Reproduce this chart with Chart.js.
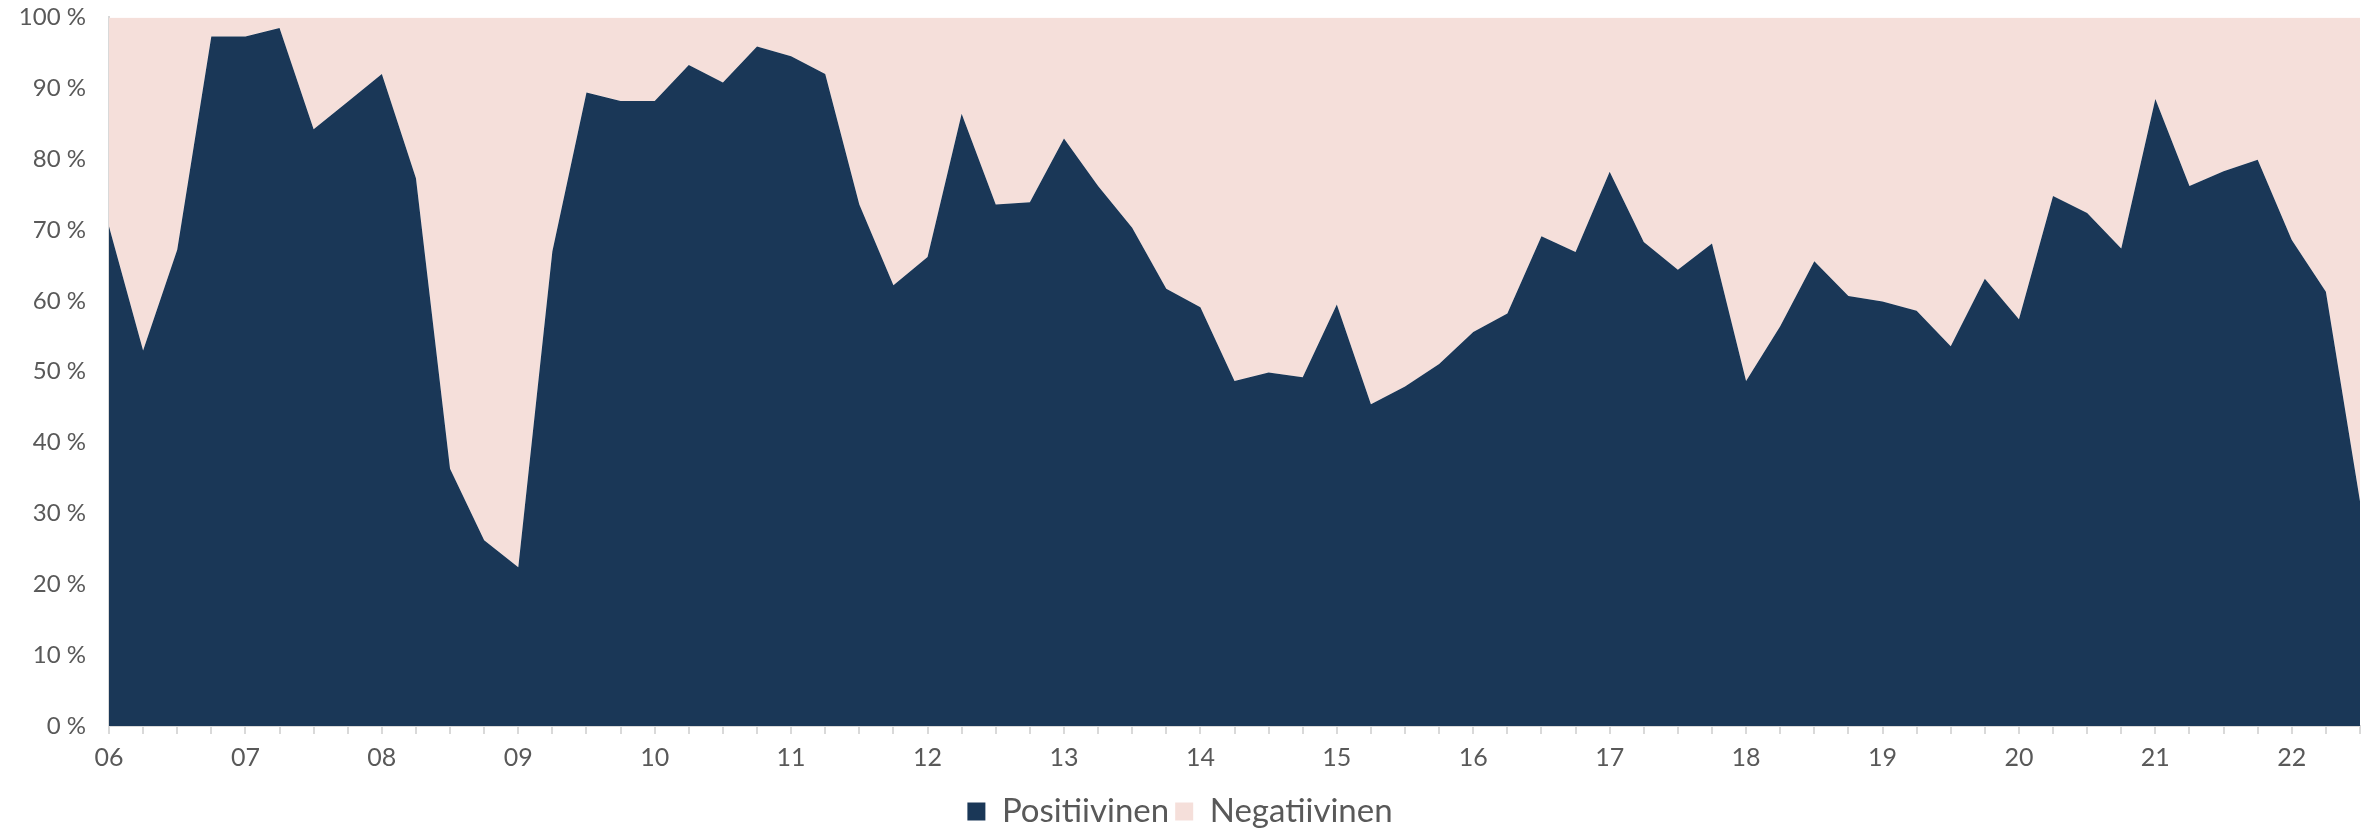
<!DOCTYPE html>
<html>
<head>
<meta charset="utf-8">
<script src="https://cdn.jsdelivr.net/npm/chart.js@4/dist/chart.umd.min.js"></script>
<style>
  html, body { margin: 0; padding: 0; background: #fff; }
  #wrap { width: 2377px; height: 828px; }
</style>
</head>
<body>
<div id="wrap"><canvas id="sentimentChart" width="2377" height="828"></canvas></div>
<script>
// neljännesvuodet 2006 Q1 - 2022 Q3
const years = ["06","07","08","09","10","11","12","13","14","15","16","17","18","19","20","21","22"];
const quarters = [];
years.forEach((y) => {
    for (let q = 1; q <= 4; q++) quarters.push(y + "Q" + q);
});
quarters.length = 67;

const positive = [
    70.5, 53.0, 67.2, 97.3,
    97.3, 98.5, 84.2, 88.1,
    92.0, 77.3, 36.3, 26.2,
    22.4, 67.0, 89.4, 88.2,
    88.2, 93.3, 90.8, 95.9,
    94.5, 92.0, 73.6, 62.2,
    66.2, 86.4, 73.6, 73.9,
    82.9, 76.2, 70.3, 61.7,
    59.1, 48.7, 49.9, 49.2,
    59.5, 45.4, 47.9, 51.1,
    55.6, 58.2, 69.1, 66.9,
    78.2, 68.3, 64.4, 68.1,
    48.7, 56.4, 65.6, 60.7,
    59.9, 58.6, 53.6, 63.1,
    57.4, 74.8, 72.4, 67.4,
    88.5, 76.2, 78.3, 79.9,
    68.6, 61.3, 31.7
];
const negative = positive.map((v) => +(100 - v).toFixed(1));

const yTicks = [0, 10, 20, 30, 40, 50, 60, 70, 80, 90, 100];

const textColor = "#595959";
const axisColor = "#D9D9D9";
const fontFamily = "Lato, 'Open Sans', sans-serif";

const ctx = document.getElementById("sentimentChart");

new Chart(ctx, {
    type: "line",
    data: {
        labels: quarters,
        datasets: [
            {
                label: "Positiivinen",
                data: positive,
                backgroundColor: "#1A3757",
                borderWidth: 0,
                pointRadius: 0,
                fill: "origin",
                tension: 0,
            },
            {
                label: "Negatiivinen",
                data: negative,
                backgroundColor: "#F5DFDA",
                borderWidth: 0,
                pointRadius: 0,
                fill: "-1",
                tension: 0,
            },
        ],
    },
    options: {
        responsive: false,
        animation: false,
        layout: { padding: { top: 2, right: 17, left: 0, bottom: -10 } },
        plugins: {
            tooltip: { enabled: false },
            legend: {
                position: "bottom",
                labels: {
                    color: textColor,
                    font: { family: fontFamily, size: 33 },
                    boxWidth: 18,
                    boxHeight: 18,
                    padding: 6,
                },
            },
        },
        scales: {
            x: {
                offset: false,
                afterFit: (scale) => { scale.height = 63; },
                grid: {
                    display: true,
                    drawOnChartArea: false,
                    drawTicks: true,
                    tickLength: 8,
                    color: axisColor,
                    lineWidth: 2,
                },
                border: { display: true, color: axisColor, width: 2 },
                ticks: {
                    autoSkip: false,
                    maxRotation: 0,
                    color: textColor,
                    font: { family: fontFamily, size: 25 },
                    padding: 9,
                    callback: function (val, i) {
                        const lbl = quarters[i];
                        return lbl.endsWith("Q1") ? lbl.slice(0, 2) : "";
                    },
                },
            },
            y: {
                stacked: true,
                min: 0,
                max: 100,
                afterFit: (scale) => { scale.width = 109; },
                afterBuildTicks: (scale) => {
                    scale.ticks = yTicks.map((v) => ({ value: v }));
                },
                grid: { display: false, drawTicks: true, tickLength: 20 },
                border: { display: true, color: axisColor, width: 2 },
                ticks: {
                    color: textColor,
                    font: { family: fontFamily, size: 24 },
                    padding: 3,
                    callback: (v) => v + " %",
                },
            },
        },
    },
});
</script>
</body>
</html>
